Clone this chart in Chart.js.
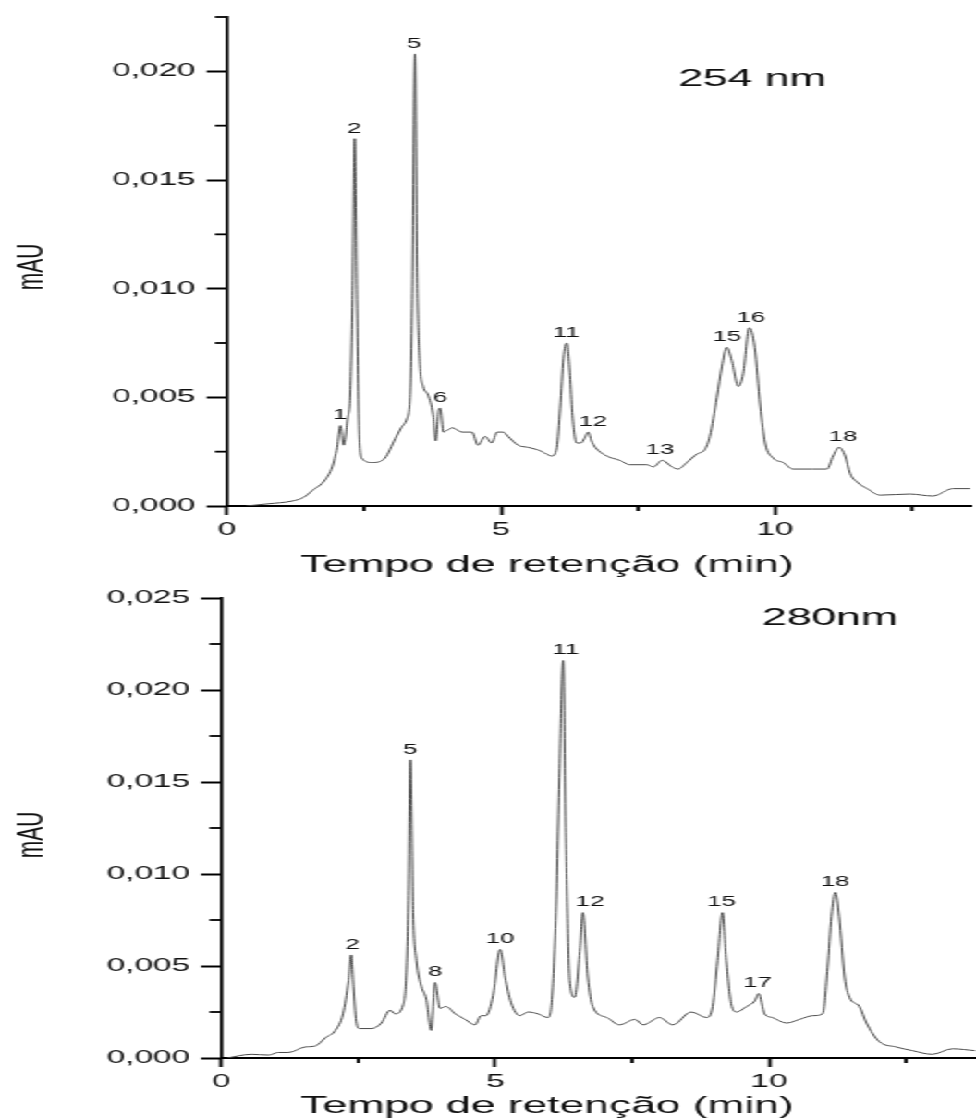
<!DOCTYPE html>
<html><head><meta charset="utf-8">
<script src="https://cdn.jsdelivr.net/npm/chart.js@4.4.1/dist/chart.umd.min.js"></script>
<style>
html,body{margin:0;padding:0;background:#fff;overflow:hidden;width:976px;height:1120px;}
#wrap{position:absolute;left:0;top:0;width:528px;transform:scaleX(1.848485);transform-origin:0 0;}
canvas{display:block;}
</style></head><body>
<div id="wrap">
<canvas id="c1" width="528" height="580"></canvas>
<canvas id="c2" width="528" height="540"></canvas>
</div>
<script>
// ---- 254 nm chromatogram ----
const time254 = [0.35,0.75,1.19,1.40,1.55,1.79,1.92,2.01,2.07,2.13,2.20,2.25,2.29,2.33,2.37,2.41,2.46,2.65,2.88,3.07,3.18,3.28,3.34,3.38,3.43,3.47,3.52,3.58,3.67,3.76,3.81,3.86,3.89,3.95,4.03,4.11,4.29,4.47,4.58,4.71,4.83,4.93,5.04,5.13,5.31,5.49,5.65,5.75,5.93,6.02,6.08,6.14,6.20,6.26,6.30,6.38,6.46,6.52,6.59,6.65,6.72,6.93,7.17,7.35,7.66,7.78,7.94,8.12,8.23,8.39,8.58,8.72,8.81,8.94,9.03,9.12,9.21,9.33,9.42,9.53,9.63,9.73,9.82,9.97,10.15,10.33,10.69,10.95,11.06,11.17,11.28,11.37,11.50,11.68,11.92,12.46,12.88,13.25,13.56];
const abs254  = [0.0000,0.0001,0.00023,0.0004,0.0007,0.0012,0.0018,0.0027,0.0037,0.0028,0.0040,0.0052,0.0095,0.0169,0.0095,0.0035,0.0022,0.0020,0.0022,0.0031,0.0036,0.0040,0.0050,0.0095,0.0208,0.0105,0.0065,0.0055,0.0051,0.0042,0.0030,0.0044,0.0045,0.0034,0.0035,0.0036,0.0034,0.0034,0.0028,0.0032,0.0029,0.0034,0.0034,0.0032,0.0028,0.0027,0.0026,0.0025,0.0023,0.0027,0.0045,0.0068,0.0075,0.0060,0.0043,0.0029,0.0029,0.0031,0.0034,0.0030,0.0027,0.0023,0.0021,0.0019,0.0019,0.0018,0.0021,0.0018,0.0017,0.0020,0.0024,0.0026,0.0032,0.0050,0.0064,0.0073,0.0067,0.0055,0.0061,0.0082,0.0073,0.0046,0.0029,0.0022,0.0020,0.0017,0.0017,0.0017,0.0023,0.0027,0.0023,0.0015,0.0011,0.0008,0.0005,0.00055,0.00046,0.0008,0.0008];
const peakText254 = ['1','2','5','6','11','12','13','15','16','18'];
const peakTime254 = [2.06,2.32,3.41,3.89,6.19,6.68,7.90,9.12,9.56,11.24];
const peakAbs254  = [0.0037,0.0169,0.0208,0.0045,0.0075,0.0034,0.0021,0.0073,0.0082,0.0027];

// ---- 280 nm chromatogram ----
const time280 = [0.10,0.55,0.86,1.04,1.22,1.53,1.71,1.90,2.08,2.22,2.32,2.37,2.41,2.46,2.52,2.74,2.92,3.08,3.17,3.32,3.37,3.41,3.45,3.50,3.56,3.65,3.74,3.83,3.90,3.99,4.10,4.27,4.45,4.63,4.74,4.83,4.96,5.09,5.18,5.29,5.45,5.60,5.78,5.96,6.03,6.11,6.17,6.24,6.29,6.36,6.45,6.55,6.60,6.69,6.78,7.04,7.27,7.55,7.70,8.00,8.24,8.58,8.86,8.97,9.06,9.15,9.22,9.32,9.41,9.59,9.74,9.81,9.92,10.06,10.32,10.56,10.80,10.98,11.07,11.14,11.21,11.28,11.38,11.47,11.65,11.78,12.01,12.32,12.62,12.98,13.35,13.76];
const abs280  = [0.0000,0.0002,0.00016,0.0003,0.0003,0.0006,0.00065,0.0011,0.0015,0.0024,0.0042,0.0056,0.0039,0.0020,0.0016,0.0016,0.0019,0.0026,0.0024,0.0029,0.0042,0.0079,0.0162,0.0079,0.0053,0.0039,0.0032,0.0015,0.0041,0.0027,0.0028,0.0024,0.0021,0.0018,0.0023,0.0023,0.0034,0.0059,0.0044,0.0030,0.0023,0.0025,0.0024,0.0022,0.0030,0.0079,0.0150,0.0216,0.0120,0.0042,0.0033,0.0060,0.0079,0.0044,0.0028,0.0022,0.0018,0.0021,0.0018,0.0022,0.0018,0.0025,0.0022,0.0028,0.0053,0.0079,0.0053,0.0028,0.0025,0.0028,0.0031,0.0035,0.0024,0.0022,0.0019,0.0021,0.0023,0.0024,0.0049,0.0077,0.0090,0.0077,0.0044,0.0033,0.0028,0.0019,0.0009,0.0006,0.0004,0.0002,0.0005,0.0004];
const peakText280 = ['2','5','8','10','11','12','15','17','18'];
const peakTime280 = [2.39,3.45,3.90,5.09,6.29,6.73,9.13,9.79,11.21];
const peakAbs280  = [0.0056,0.0162,0.0041,0.0059,0.0216,0.0079,0.0079,0.0035,0.0090];

// ---- axes ----
const xTickVals = [0,5,10];
const xTickLabels = ['0','5','10'];
const xMinorVals = [2.5,7.5,12.5];
const yTickVals254 = [0,0.005,0.010,0.015,0.020];
const yTickLabels254 = ['0,000','0,005','0,010','0,015','0,020'];
const yMinorVals254 = [0.0025,0.0075,0.0125,0.0175,0.0225];
const yTickVals280 = [0,0.005,0.010,0.015,0.020,0.025];
const yTickLabels280 = ['0,000','0,005','0,010','0,015','0,020','0,025'];
const yMinorVals280 = [0.0025,0.0075,0.0125,0.0175,0.0225];

const FONT = '"Liberation Sans", Arial, sans-serif';

const annot = {
  id: 'annot',
  afterDraw(chart, args, o) {
    const {ctx, chartArea} = chart;
    const x = chart.scales.x, y = chart.scales.y;
    ctx.save();
    ctx.strokeStyle = '#000';
    ctx.lineWidth = 1.8;
    o.minorX.forEach(v => {
      const px = x.getPixelForValue(v);
      ctx.beginPath(); ctx.moveTo(px, chartArea.bottom); ctx.lineTo(px, chartArea.bottom + 5); ctx.stroke();
    });
    o.minorY.forEach(v => {
      const py = y.getPixelForValue(v);
      ctx.beginPath(); ctx.moveTo(chartArea.left, py); ctx.lineTo(chartArea.left - 6.5, py); ctx.stroke();
    });
    ctx.fillStyle = '#111';
    ctx.textAlign = 'center';
    ctx.textBaseline = 'middle';
    ctx.font = '14px ' + FONT;
    o.peakText.forEach((t, i) => {
      ctx.fillText(t, x.getPixelForValue(o.peakTime[i]), y.getPixelForValue(o.peakAbs[i]) - 10);
    });
    ctx.font = '24px ' + FONT;
    ctx.fillText(o.wave, o.waveX, o.waveY);
    ctx.fillText('Tempo de retenção (min)', o.xTitleX, o.xTitleY);
    ctx.translate(o.yTitleX, o.yTitleY);
    ctx.rotate(-Math.PI / 2);
    ctx.font = '21px ' + FONT;
    ctx.fillText('mAU', 0, 0);
    ctx.restore();
  }
};

function makeChart(id, times, vals, cfg) {
  return new Chart(document.getElementById(id), {
    type: 'line',
    data: { datasets: [{
      data: times.map((t, i) => ({x: t, y: vals[i]})),
      borderColor: '#4a4a4a',
      borderWidth: 1.0,
      pointRadius: 0,
      cubicInterpolationMode: 'monotone',
      fill: false
    }]},
    plugins: [annot],
    options: {
      responsive: false,
      animation: false,
      devicePixelRatio: 1,
      layout: { padding: { left: 0, right: cfg.padRight, top: cfg.padTop, bottom: 0 } },
      plugins: {
        legend: { display: false },
        tooltip: { enabled: false },
        annot: cfg.annot
      },
      scales: {
        x: {
          type: 'linear', min: 0, max: cfg.xMax,
          afterBuildTicks: s => { s.ticks = xTickVals.map(v => ({value: v})); },
          afterFit: s => { s.height = cfg.xHeight; },
          border: { display: true, color: '#000', width: 2 },
          grid: { drawOnChartArea: false, drawTicks: true, tickLength: 9, tickColor: '#000', tickWidth: 1.8 },
          ticks: { color: '#111', font: { family: FONT, size: 18 }, padding: 4, maxRotation: 0,
                   callback: (v, i) => xTickLabels[i] }
        },
        y: {
          type: 'linear', min: 0, max: cfg.yMax,
          afterBuildTicks: s => { s.ticks = cfg.yVals.map(v => ({value: v})); },
          afterFit: s => { s.width = cfg.yWidth; },
          border: { display: true, color: '#000', width: 1.7 },
          grid: { drawOnChartArea: false, drawTicks: true, tickLength: 11, tickColor: '#000', tickWidth: 2 },
          ticks: { color: '#111', font: { family: FONT, size: 18 }, padding: 6,
                   callback: (v, i) => cfg.yLabels[i] }
        }
      }
    }
  });
}

makeChart('c1', time254, abs254, {
  xMax: 13.57, yMax: 0.0225, padRight: 2.9, padTop: 17, xHeight: 74, yWidth: 122.8,
  yVals: yTickVals254, yLabels: yTickLabels254,
  annot: { minorX: xMinorVals, minorY: yMinorVals254,
    peakText: peakText254, peakTime: peakTime254, peakAbs: peakAbs254,
    wave: '254 nm', waveX: 407, waveY: 79,
    xTitleX: 296, xTitleY: 565, yTitleX: 17, yTitleY: 267 }
});
makeChart('c2', time280, abs280, {
  xMax: 13.78, yMax: 0.025, padRight: 0, padTop: 18, xHeight: 62, yWidth: 119.8,
  yVals: yTickVals280, yLabels: yTickLabels280,
  annot: { minorX: xMinorVals, minorY: yMinorVals280,
    peakText: peakText280, peakTime: peakTime280, peakAbs: peakAbs280,
    wave: '280nm', waveX: 449, waveY: 38,
    xTitleX: 296, xTitleY: 526, yTitleX: 17, yTitleY: 255 }
});
</script>
</body></html>
